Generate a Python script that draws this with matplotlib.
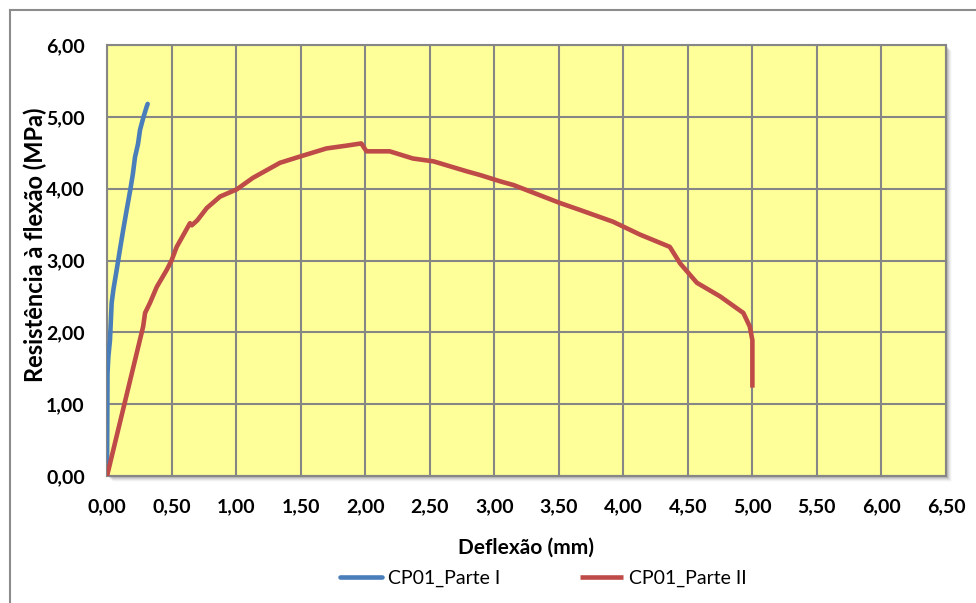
import matplotlib
matplotlib.use("Agg")
import matplotlib.pyplot as plt
from matplotlib.patches import Rectangle
from matplotlib.lines import Line2D
from matplotlib.ticker import FuncFormatter, MultipleLocator

plt.rcParams['font.family'] = ['Lato', 'DejaVu Sans']

# CP01 - parte I (deflexão em mm, resistência em MPa)
defl_p1 = [0.000, 0.002, 0.004, 0.010, 0.023, 0.036, 0.050, 0.075, 0.100, 0.125,
           0.150, 0.180, 0.200, 0.217, 0.240, 0.256, 0.280, 0.307, 0.315]
res_p1 = [0.00, 0.70, 1.43, 1.65, 1.89, 2.41, 2.60, 2.87, 3.15, 3.42,
          3.68, 3.98, 4.20, 4.44, 4.62, 4.82, 4.98, 5.14, 5.18]

# CP01 - parte II
defl_p2 = [0.000, 0.280, 0.295, 0.333, 0.385, 0.463, 0.500, 0.540, 0.643, 0.657,
           0.700, 0.773, 0.876, 1.005, 1.130, 1.340, 1.500, 1.700, 1.860,
           1.970, 2.010, 2.190, 2.370, 2.530, 2.790, 2.890, 3.050, 3.150,
           3.510, 3.670, 3.920, 4.130, 4.360, 4.440, 4.570, 4.750, 4.930,
           4.980, 5.000, 5.000]
res_p2 = [0.00, 2.08, 2.27, 2.41, 2.63, 2.87, 3.00, 3.19, 3.52, 3.49,
          3.56, 3.73, 3.89, 3.99, 4.15, 4.36, 4.45, 4.56, 4.60,
          4.63, 4.52, 4.52, 4.42, 4.38, 4.24, 4.19, 4.10, 4.05,
          3.80, 3.70, 3.54, 3.36, 3.19, 2.96, 2.69, 2.50, 2.27,
          2.08, 1.89, 1.23]

x_ticks_max = 6.5
y_ticks_max = 6.0

W, H = 976, 603
fig = plt.figure(figsize=(W / 100, H / 100), dpi=100)

# plot area in pixel coordinates
L, R, T, B = 107, 946, 45, 476
ax = fig.add_axes([L / W, (H - B) / H, (R - L) / W, (B - T) / H])
ax.set_facecolor('#FFFF99')
ax.set_zorder(2)

# soft drop shadow behind the plot area
for i, a in enumerate([0.10, 0.08, 0.06, 0.04, 0.02]):
    off = 2 + i
    fig.patches.append(Rectangle(((L + off) / W, (H - B - off) / H),
                                 (R - L) / W, (B - T) / H,
                                 transform=fig.transFigure, facecolor='black',
                                 edgecolor='none', alpha=a, zorder=1))

# outer chart frame
fig.add_artist(Line2D([10 / W, 1.0], [(H - 10) / H, (H - 10) / H],
                      transform=fig.transFigure, color='#8C8C8C', lw=1.5))
fig.add_artist(Line2D([10 / W, 10 / W], [(H - 10) / H, 0.0],
                      transform=fig.transFigure, color='#8C8C8C', lw=1.5))

ax.plot(defl_p1, res_p1, color='#4A7EBB', lw=3.3, label='CP01_Parte I',
        solid_capstyle='round', zorder=3)
ax.plot(defl_p2, res_p2, color='#BE4B48', lw=3.3, label='CP01_Parte II',
        solid_capstyle='butt', zorder=4)

ax.set_xlim(0, x_ticks_max)
ax.set_ylim(0, y_ticks_max)
ax.xaxis.set_major_locator(MultipleLocator(0.5))
ax.yaxis.set_major_locator(MultipleLocator(1.0))
fmt = FuncFormatter(lambda v, p: f"{v:.2f}".replace('.', ','))
ax.xaxis.set_major_formatter(fmt)
ax.yaxis.set_major_formatter(fmt)
ax.grid(True, color='#868686', lw=1.5)
ax.set_axisbelow(True)
for s in ax.spines.values():
    s.set_color('#868686')
    s.set_linewidth(1.5)
ax.tick_params(length=0, labelsize=14, pad=0)
ax.tick_params(axis='x', pad=16)
ax.tick_params(axis='y', pad=16)
for lab in ax.get_xticklabels() + ax.get_yticklabels():
    lab.set_fontweight('bold')

ax.set_xlabel('Deflexão (mm)', fontsize=15, fontweight='bold', va='center')
ax.set_ylabel('Resistência à flexão (MPa)', fontsize=17, fontweight='bold', va='center')
ax.xaxis.set_label_coords((526 - L) / (R - L), (B - 548) / (B - T))
ax.yaxis.set_label_coords((35 - L) / (R - L), (B - 245) / (B - T))

fig.legend(loc='center', bbox_to_anchor=(543 / W, (H - 578) / H), ncol=2,
           frameon=False, fontsize=14, handlelength=2.2, columnspacing=4.1,
           handletextpad=0.3)

fig.savefig('out.png', dpi=100)
